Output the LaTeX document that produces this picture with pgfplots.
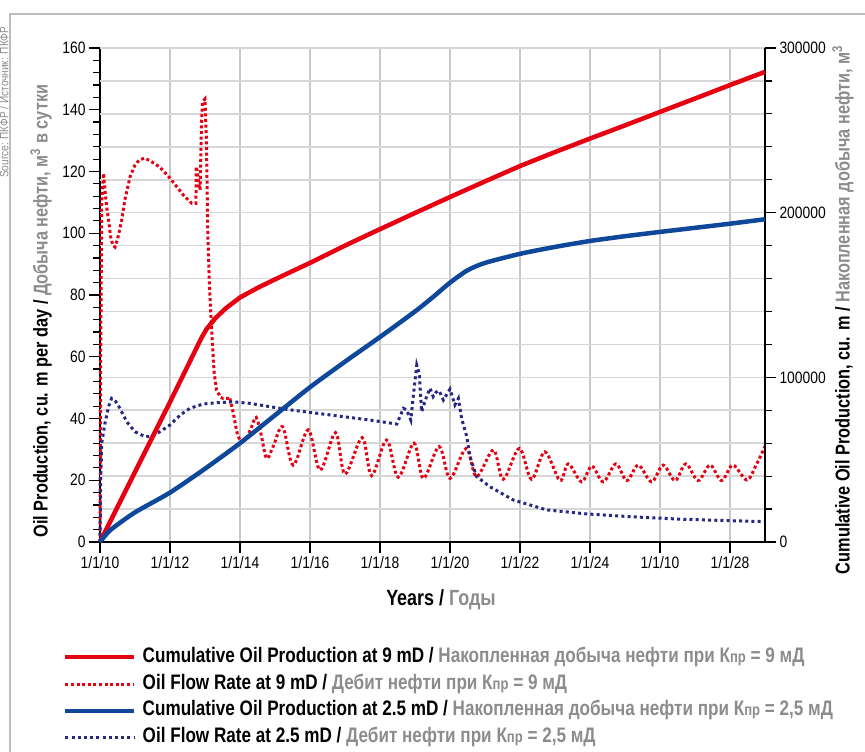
\documentclass[border=0pt]{standalone}
\usepackage{fontspec}
\setmainfont{Liberation Sans}[FakeStretch=0.84]
\newfontfamily\lblfont{Liberation Sans}[FakeStretch=0.815]
\usepackage{pgfplots}
\pgfplotsset{compat=1.18}
\definecolor{cred}{RGB}{230,0,18}
\definecolor{cblue}{RGB}{15,72,155}
\definecolor{cnavy}{RGB}{40,40,130}
\definecolor{tgray}{RGB}{140,140,140}
\definecolor{gridv}{RGB}{200,200,200}
\definecolor{gridh}{RGB}{215,215,215}
\definecolor{framec}{RGB}{190,190,190}
\newcommand{\lbl}{\lblfont\bfseries\fontsize{20}{22}\selectfont}
\newcommand{\lgd}{\lblfont\bfseries\fontsize{21}{24}\selectfont}
\newcommand{\Kpr}{К{\fontsize{16}{16}\selectfont пр}}
\begin{document}
\begin{tikzpicture}
\useasboundingbox (-100pt,-210pt) rectangle (765pt,542pt);
% frame
\draw[framec, line width=1.5pt] (-90pt,-215pt) -- (-90pt,528pt) -- (770pt,528pt);
\node[rotate=90, anchor=west, text=tgray, font=\fontsize{12}{12}\selectfont, inner sep=0pt] at (-96pt,364pt) {Source: ПКФР / Источник: ПКФР};
% left axis: rates
\begin{axis}[
  at={(0pt,0pt)}, anchor=south west,
  width=665pt, height=494pt, scale only axis,
  xmin=0, xmax=19, ymin=0, ymax=160,
  axis x line*=bottom, axis y line*=left,
  axis line style={black, line width=1.3pt},
  xtick={0,2,...,18},
  xticklabels={1/1/10,1/1/12,1/1/14,1/1/16,1/1/18,1/1/20,1/1/22,1/1/24,1/1/10,1/1/28},
  ytick={0,20,...,160},
  minor y tick num=4,
  tick align=outside,
  major tick length=11pt, minor tick length=7pt,
  every tick/.style={black, line width=1.2pt},
  xmajorgrids,
  major grid style={draw=gridv, line width=1.3pt},
  extra y ticks={10.6667,21.3333,32,42.6667,53.3333,64,74.6667,85.3333,96,106.6667,117.3333,128,138.6667,149.3333,160},
  extra y tick labels={},
  extra y tick style={grid=major, major grid style={draw=gridh, line width=1.6pt}, major tick length=0pt},
  tick label style={font=\fontsize{16.5}{19}\selectfont},
  /pgf/number format/assume math mode=true,
  clip=false,
]
\addplot[cred, line width=3pt, dash pattern=on 3pt off 2.6pt] coordinates {
(0,0) (0.02,60) (0.05,110) (0.1,119.4) (0.15,113) (0.19,108.6) (0.26,103) (0.3,99) (0.37,96) (0.43,95.5) (0.52,99) (0.62,104.3) (0.71,110.8) (0.86,118.3) (1.0,122.1) (1.12,123.7) (1.26,124.3) (1.43,123.5) (1.71,121.4) (1.95,118.5) (2.17,115.4) (2.38,112.4) (2.62,109.7) (2.74,109.7) (2.75,121.6) (2.78,120) (2.82,116) (2.86,114) (2.9,135) (2.93,142.6) (3.0,143.5) (3.04,130) (3.08,100) (3.13,82) (3.19,68.7) (3.26,55) (3.33,49.2) (3.45,46.8) (3.52,46.5) (3.71,46.5)};
\addplot[cred, line width=3pt, dash pattern=on 3pt off 2.6pt, smooth, tension=0.55] coordinates {
(3.71,46.5) (3.81,41.7) (3.95,34.1) (4.14,33) (4.33,37.3) (4.46,40.4) (4.6,35) (4.76,27.1) (4.95,31) (5.22,37.3) (5.52,24.9) (5.95,36.3) (6.29,23.3) (6.73,35.4) (7.0,22.0) (7.49,33.8) (7.76,21.5) (8.19,33.0) (8.52,21.0) (8.97,32.0) (9.24,20.6) (9.69,30.9) (10.0,20.6) (10.46,30.3) (10.76,21.2) (11.24,29.8) (11.52,20.3) (11.98,30.3) (12.33,20.3) (12.71,29.2) (13.14,19.9) (13.38,25.3) (13.76,19.5) (14.05,24.6) (14.38,19.5) (14.74,25.3) (15.05,19.9) (15.38,24.9) (15.76,19.5) (16.09,24.9) (16.43,19.9) (16.74,25.3) (17.09,19.9) (17.43,24.9) (17.76,19.9) (18.08,24.9) (18.48,20.1) (18.75,25) (19.0,31)};
\addplot[cnavy, line width=3pt, dash pattern=on 3pt off 3.2pt] coordinates {
(0,0) (0.02,20) (0.05,32) (0.14,38.4) (0.25,44) (0.33,46.5) (0.45,45.5) (0.57,43.3) (0.76,39) (1.0,35.7) (1.29,34.1) (1.48,34.3) (1.71,35.7) (2.0,37.9) (2.29,41.1) (2.57,43.3) (2.95,44.7) (3.33,45.1) (3.81,45.4) (4.29,44.9) (4.76,44.0) (5.43,42.8) (6.19,41.7) (6.95,40.6) (7.71,39.5) (8.48,38.2) (8.57,40.6) (8.67,43.3) (8.76,42.8) (8.88,39.5) (8.95,47.1) (9.05,57.3) (9.12,54.6) (9.19,42.2) (9.33,47.1) (9.43,49.8) (9.52,47.1) (9.6,48.5) (9.69,49) (9.81,46) (10.0,49.5) (10.14,44.4) (10.24,46.5) (10.33,40.1) (10.48,34.1) (10.57,27.6) (10.76,21.2) (11.14,17.9) (11.81,13.6) (12.76,10.4) (13.9,9.1) (15.14,8.2) (16.57,7.4) (18.0,6.9) (19.0,6.6)};
\end{axis}
% right axis: cumulative
\begin{axis}[
  at={(0pt,0pt)}, anchor=south west,
  width=665pt, height=494pt, scale only axis,
  xmin=0, xmax=19, ymin=0, ymax=300000,
  axis x line=none, axis y line*=right,
  axis line style={black, line width=1.3pt},
  ytick={0,100000,200000,300000},
  minor y tick num=4,
  tick align=outside,
  major tick length=11pt, minor tick length=7pt,
  every tick/.style={black, line width=1.2pt},
  scaled y ticks=false,
  yticklabel style={/pgf/number format/.cd, fixed, 1000 sep={}},
  tick label style={font=\fontsize{16.5}{19}\selectfont},
  /pgf/number format/assume math mode=true,
  clip=false,
  legend style={at={(axis description cs:-0.0556,-0.2126)}, anchor=north west, draw=none, fill=none, inner sep=0pt, row sep=6.8pt, column sep=6pt, cells={anchor=west},
    nodes={inner sep=0pt, text height=15pt, text depth=5pt, font=\lgd}},
  legend cell align=left,
  legend image code/.code={\draw[#1] (0pt,0pt) -- (69pt,0pt);},
]
\addplot[cred, line width=4.5pt, forget plot] coordinates {
(0,0) (1,42500) (2,85000) (2.9,124000) (3.05,129500) (3.3,136000) (3.6,142000) (4,148500) (4.5,154300) (5,159500) (6,169500) (7,180000) (8,190000) (9,199800) (10,209500) (11,219000) (12,228300) (13,236800) (14,245000) (15,253000) (16,261200) (17,269300) (18,277500) (19,285500)};
\addplot[cblue, line width=4.5pt, forget plot, smooth, tension=0.4] coordinates {
(0,0) (0.3,7300) (1,18000) (2,30000) (3,44500) (4,60000) (5,77000) (6,94000) (7,109500) (8,124500) (9,140000) (9.5,148500) (10,157500) (10.5,165000) (11,169500) (12,175000) (13,179200) (14,182800) (15,185700) (16,188300) (17,190800) (18,193300) (19,196000)};
\addlegendimage{cred, line width=4.5pt}
\addlegendentry{Cumulative Oil Production at 9 mD / \textcolor{tgray}{Накопленная добыча нефти при \Kpr\ = 9 мД}}
\addlegendimage{cred, line width=3pt, dash pattern=on 3pt off 2.6pt}
\addlegendentry{Oil Flow Rate at 9 mD / \textcolor{tgray}{Дебит нефти при \Kpr\ = 9 мД}}
\addlegendimage{cblue, line width=4.5pt}
\addlegendentry{Cumulative Oil Production at 2.5 mD / \textcolor{tgray}{Накопленная добыча нефти при \Kpr\ = 2,5 мД}}
\addlegendimage{cnavy, line width=3pt, dash pattern=on 3pt off 3.2pt}
\addlegendentry{Oil Flow Rate at 2.5 mD / \textcolor{tgray}{Дебит нефти при \Kpr\ = 2,5 мД}}
\end{axis}
\node[rotate=90, font=\lbl, inner sep=0pt] at (-59pt,231pt) {Oil Production, cu. m per day / \textcolor{tgray}{Добыча нефти, м\textsuperscript{3} в сутки}};
\node[rotate=90, font=\lbl, inner sep=0pt] at (743pt,232pt) {Cumulative Oil Production, cu. m / \textcolor{tgray}{Накопленная добыча нефти, м\textsuperscript{3}}};
\node[font=\lblfont\bfseries\fontsize{22}{24}\selectfont, inner sep=0pt] at (341pt,-58pt) {Years / \textcolor{tgray}{Годы}};
\end{tikzpicture}
\end{document}
